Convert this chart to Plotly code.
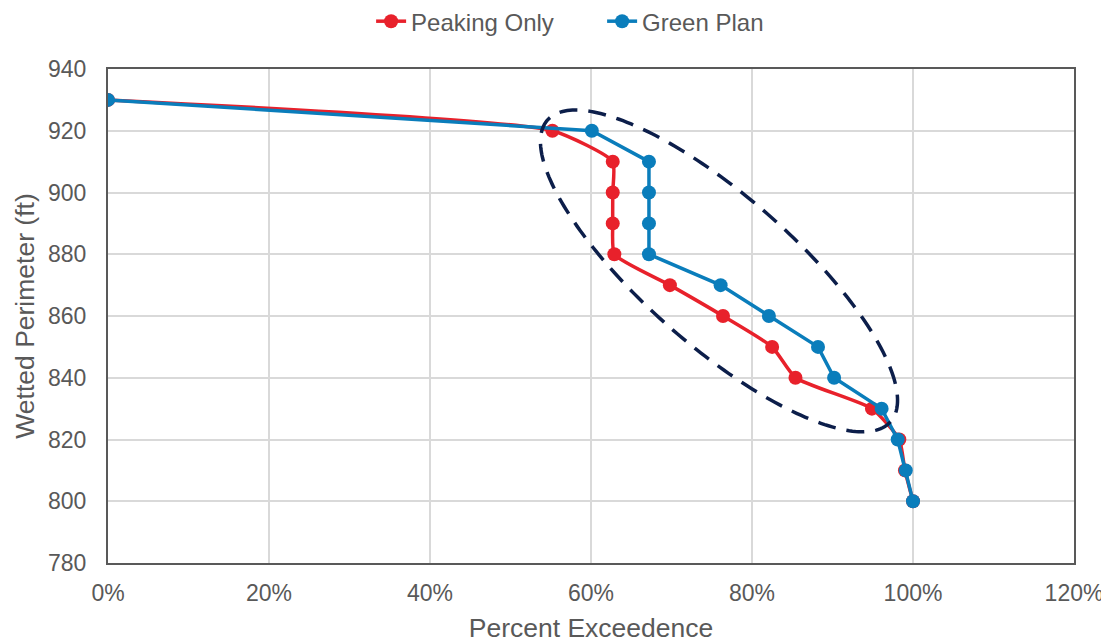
import numpy as np
import plotly.graph_objects as go

# Data
wetted_perimeter = [930, 920, 910, 900, 890, 880, 870, 860, 850, 840, 830, 820, 810, 800]
peaking_only = [0.0, 55.2, 62.7, 62.7, 62.7, 62.9, 69.8, 76.4, 82.5, 85.4, 94.9, 98.3, 99.0, 100.0]
green_plan = [0.0, 60.1, 67.2, 67.2, 67.2, 67.2, 76.1, 82.1, 88.2, 90.2, 96.1, 98.1, 99.1, 100.0]
x_ticks = [0, 20, 40, 60, 80, 100, 120]
y_ticks = [780, 800, 820, 840, 860, 880, 900, 920, 940]

RED = "#E8212B"
BLUE = "#0A7DBB"
NAVY = "#0C1E4A"
TEXT = "#595959"

fig = go.Figure()
fig.add_trace(go.Scatter(
    x=peaking_only, y=wetted_perimeter, mode="lines+markers", name="Peaking Only",
    line=dict(color=RED, width=3.5, shape="spline", smoothing=0.5),
    marker=dict(color=RED, size=14),
))
fig.add_trace(go.Scatter(
    x=green_plan, y=wetted_perimeter, mode="lines+markers", name="Green Plan",
    line=dict(color=BLUE, width=3.5),
    marker=dict(color=BLUE, size=14),
))

# Dashed ellipse highlight (defined in pixel-like units, converted to data units)
px_per_x = 966 / 120.0
px_per_y = 494 / 160.0
cx, cy = 75.9, 874.6
a_px, b_px, theta = 228.4, 74.8, np.deg2rad(41.3)
t = np.linspace(0, 2 * np.pi, 240)
dx = a_px * np.cos(t) * np.cos(theta) - b_px * np.sin(t) * np.sin(theta)
dy = a_px * np.cos(t) * np.sin(theta) + b_px * np.sin(t) * np.cos(theta)
ex = cx + dx / px_per_x
ey = cy - dy / px_per_y
path = "M " + " L ".join(f"{xx:.4f},{yy:.4f}" for xx, yy in zip(ex, ey)) + " Z"
fig.add_shape(type="path", path=path, xref="x", yref="y",
              line=dict(color=NAVY, width=3.5, dash="18px,11px"), layer="above")

fig.update_layout(
    width=1101, height=635,
    margin=dict(l=100, r=35, t=61, b=80, autoexpand=False),
    paper_bgcolor="white", plot_bgcolor="white",
    font=dict(family="Liberation Sans, Arial, sans-serif", color=TEXT, size=23),
    showlegend=True,
    legend=dict(orientation="h", x=0.5115, xanchor="center", y=1.096, yanchor="middle",
                font=dict(size=24, color=TEXT), tracegroupgap=0,
                entrywidth=186, entrywidthmode="pixels"),
)
fig.update_xaxes(
    range=[0, 120], tickvals=x_ticks, ticktext=[f"{v}%" for v in x_ticks],
    showgrid=True, gridcolor="#D9D9D9", gridwidth=1.5,
    showline=True, linecolor="#595959", linewidth=2, mirror=True,
    zeroline=False, ticks="outside", ticklen=8, tickcolor="rgba(0,0,0,0)",
    automargin=False,
    title=dict(text="Percent Exceedence", font=dict(size=26.5, color=TEXT), standoff=14),
    tickfont=dict(size=23, color=TEXT),
)
fig.update_yaxes(
    range=[780, 940], tickvals=y_ticks,
    showgrid=True, gridcolor="#D9D9D9", gridwidth=1.5,
    showline=True, linecolor="#595959", linewidth=2, mirror=True,
    zeroline=False, ticks="outside", ticklen=15, tickcolor="rgba(0,0,0,0)",
    automargin=False,
    title=dict(text="Wetted Perimeter (ft)", font=dict(size=26.5, color=TEXT), standoff=6),
    tickfont=dict(size=23, color=TEXT),
)

fig.write_html("out.html")
